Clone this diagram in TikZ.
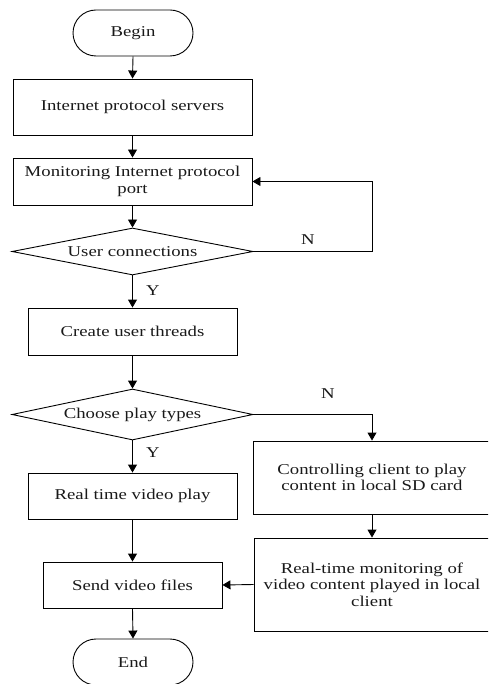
\documentclass[tikz,border=0pt]{standalone}
\usepackage{fontspec}
\setmainfont{Liberation Serif}[FakeStretch=1.25]
\usetikzlibrary{shapes.geometric,arrows.meta}
\begin{document}
\begin{tikzpicture}[x=1pt,y=-1pt,
  every node/.style={font=\fontsize{15}{16.5}\selectfont,text=black!90},
  box/.style={draw,line width=0.9pt,inner sep=2pt,align=center},
  term/.style={draw,line width=0.9pt,rounded corners=23pt,minimum width=120pt,minimum height=46pt,inner sep=0pt},
  dec/.style={draw,diamond,aspect=5,line width=0.9pt,inner sep=0pt,minimum width=241pt,minimum height=47pt},
  arr/.style={line width=0.9pt,-{Triangle[length=8pt,width=9pt]}},
  lbl/.style={inner sep=0pt}]
\useasboundingbox (0,0) rectangle (488,684);
\begin{scope}
\clip (0,0) rectangle (488,684);
\node[term] (begin) at (133,33) {Begin};
\node[box,minimum width=239pt,minimum height=56pt] (ips) at (132.5,107) {Internet protocol servers};
\node[box,minimum width=239pt,minimum height=47pt] (mon) at (132.5,181.5) {Monitoring Internet protocol\\port};
\node[dec] (uc) at (132.5,251.5) {User connections};
\node[box,minimum width=209pt,minimum height=47pt] (cut) at (132.5,331.5) {Create user threads};
\node[dec,minimum height=51pt] (cpt) at (132.5,414.5) {Choose play types};
\node[box,minimum width=209pt,minimum height=46pt] (rtv) at (132.5,496) {Real time video play};
\node[box,minimum width=179pt,minimum height=46pt] (svf) at (132.5,585) {Send video files};
\node[term] (end) at (133,662) {End};
\node[box,minimum width=238pt,minimum height=73pt] (ctrl) at (372,477.5) {Controlling client to play\\content in local SD card};
\node[box,minimum width=236pt,minimum height=93pt] (rtm) at (372,584.5) {Real-time monitoring of\\video content played in local\\client};
\end{scope}
\draw[arr] (begin.south) -- (ips.north);
\draw[arr] (ips.south) -- (mon.north);
\draw[arr] (mon.south) -- (uc.north);
\draw[arr] (uc.east) -- ++(118.5,0) coordinate (fb) |- (mon.east);
\node[lbl] (n1) at (308,240) {N};
\draw[arr] (uc.south) -- (cut.north);
\node[lbl] (y1) at (153,291) {Y};
\draw[arr] (cut.south) -- (cpt.north);
\draw[arr] (cpt.east) -| (ctrl.north);
\node[lbl] (n2) at (328,394) {N};
\draw[arr] (cpt.south) -- (rtv.north);
\node[lbl] (y2) at (153,453) {Y};
\draw[arr] (rtv.south) -- (svf.north);
\draw[arr] (ctrl.south) -- (rtm.north);
\draw[arr] (rtm.west) -- (svf.east);
\draw[arr] (svf.south) -- (end.north);
\end{tikzpicture}
\end{document}
